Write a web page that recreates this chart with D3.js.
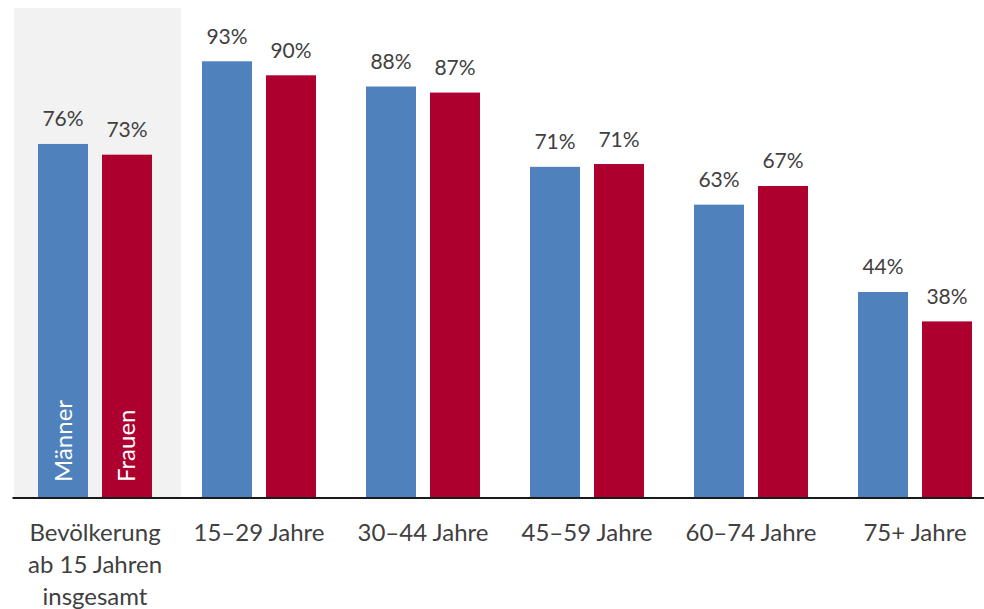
<!DOCTYPE html>
<html>
<head>
  <meta charset='utf-8'>
  <style>
  body { margin: 0; background: #fff; }
  text { font-family: Lato, 'Open Sans', sans-serif; fill: #404040; }
  .bar-label { font-size: 21px; }
  .cat-label { font-size: 24px; }
  .series-label { font-size: 24px; fill: #fff; }
  </style>
</head>
<body>
<script src='https://d3js.org/d3.v7.min.js'></script>
<script>

var categories = ['Bevölkerung\nab 15 Jahren\ninsgesamt', '15–29 Jahre', '30–44 Jahre', '45–59 Jahre', '60–74 Jahre', '75+ Jahre'];
var seriesNames = ['Männer', 'Frauen'];
var maenner = [75.6, 93.3, 87.9, 70.7, 62.6, 43.9];
var frauen = [73.3, 90.3, 86.6, 71.3, 66.6, 37.6];

var WIDTH = 984, HEIGHT = 609;
var BASE = 497;
var colors = {'Männer': '#4f81bd', 'Frauen': '#ae002f'};

var svg = d3.select('body').append('svg')
    .attr('width', WIDTH)
    .attr('height', HEIGHT);

var x = d3.scaleBand()
    .domain(categories)
    .range([13, 997])
    .paddingInner(0.305)
    .paddingOuter(0.1525);

var xs = d3.scaleBand()
    .domain(seriesNames)
    .range([0, x.bandwidth()])
    .paddingInner(0.21875);

var y = d3.scaleLinear()
    .domain([0, 100])
    .range([BASE, 30]);

// grey panel behind the total group
svg.append('rect')
    .attr('x', x(categories[0]) - 24)
    .attr('y', 8)
    .attr('width', x.bandwidth() + 53)
    .attr('height', BASE - 8)
    .attr('fill', '#f2f2f2');

var data = categories.map(function(c, i) {
  return {cat: c, values: [{s: 'Männer', v: maenner[i]}, {s: 'Frauen', v: frauen[i]}]};
});

var groups = svg.selectAll('.group')
    .data(data)
  .enter().append('g')
    .attr('class', 'group')
    .attr('transform', function(d) { return 'translate(' + x(d.cat) + ',0)'; });

var bars = groups.selectAll('.bar')
    .data(function(d) { return d.values; })
  .enter().append('g')
    .attr('class', 'bar');

bars.append('rect')
    .attr('x', function(d) { return xs(d.s); })
    .attr('y', function(d) { return y(d.v); })
    .attr('width', xs.bandwidth())
    .attr('height', function(d) { return BASE - y(d.v); })
    .attr('fill', function(d) { return colors[d.s]; });

bars.append('text')
    .attr('class', 'bar-label')
    .attr('x', function(d) { return xs(d.s) + xs.bandwidth() / 2; })
    .attr('y', function(d) { return y(d.v) - 17.5; })
    .attr('text-anchor', 'middle')
    .text(function(d) { return Math.round(d.v) + '%'; });

// series names inside the first group's bars
svg.selectAll('.series-label')
    .data(seriesNames)
  .enter().append('text')
    .attr('class', 'series-label')
    .attr('transform', function(d) {
      var cx = x(categories[0]) + xs(d) + xs.bandwidth() / 2;
      return 'translate(' + (cx + 8.5) + ',' + (BASE - 15) + ') rotate(-90)';
    })
    .text(function(d) { return d; });

// baseline
svg.append('line')
    .attr('x1', 12.5)
    .attr('x2', WIDTH)
    .attr('y1', BASE + 1)
    .attr('y2', BASE + 1)
    .attr('stroke', '#1a1a1a')
    .attr('stroke-width', 2);

// category labels
var cats = svg.selectAll('.cat-label')
    .data(categories)
  .enter().append('text')
    .attr('class', 'cat-label')
    .attr('text-anchor', 'middle')
    .attr('transform', function(d) { return 'translate(' + (x(d) + x.bandwidth() / 2) + ',541)'; });

cats.selectAll('tspan')
    .data(function(d) { return d.split('\n'); })
  .enter().append('tspan')
    .attr('x', 0)
    .attr('y', function(d, i) { return i * 32; })
    .text(function(d) { return d; });

</script>
</body>
</html>
